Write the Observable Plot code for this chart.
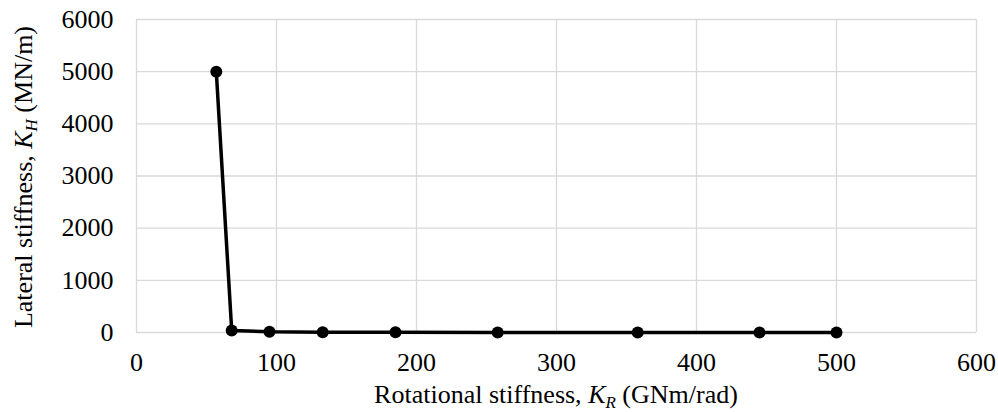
<!DOCTYPE html>
<html><head><meta charset="utf-8">
<script src="https://cdn.jsdelivr.net/npm/d3@7"></script>
<script src="https://cdn.jsdelivr.net/npm/@observablehq/plot@0.6"></script>
<style>
body{margin:0;background:#fff;}
svg, svg text{font-family:"Liberation Serif", "Times New Roman", serif !important;}
</style>
</head><body><div id="chart"></div>
<script>
const rotational = [57, 68, 95, 133, 185, 258, 358, 445, 500];
const lateral = [5000, 40, 15, 7, 4, 2, 1, 1, 1];
const xTicks = [0, 100, 200, 300, 400, 500, 600];
const yTicks = [0, 1000, 2000, 3000, 4000, 5000, 6000];

const data = rotational.map((x, i) => ({x, y: lateral[i]}));
const fmt = d => String(d);
const FONT = '"Liberation Serif", "Times New Roman", serif';

const chart = Plot.plot({
  width: 998, height: 412,
  marginLeft: 136, marginRight: 22, marginTop: 19, marginBottom: 80,
  style: {fontFamily: FONT, fontSize: "26px", color: "#000", background: "#fff"},
  x: {domain: [0, 600], ticks: xTicks, label: null, tickFormat: fmt},
  y: {domain: [0, 6000], ticks: yTicks, label: null, tickFormat: fmt},
  marks: [
    Plot.gridX(xTicks, {stroke: "#d9d9d9", strokeOpacity: 1, strokeWidth: 1.3}),
    Plot.gridY(yTicks, {stroke: "#d9d9d9", strokeOpacity: 1, strokeWidth: 1.3}),
    Plot.axisX(xTicks, {tickSize: 0, tickPadding: 20, fontSize: 26, fontFamily: FONT, tickFormat: fmt}),
    Plot.axisY(yTicks, {tickSize: 0, tickPadding: 23, fontSize: 26, fontFamily: FONT, tickFormat: fmt}),
    Plot.line(data, {x: "x", y: "y", stroke: "#000", strokeWidth: 3.5}),
    Plot.dot(data, {x: "x", y: "y", r: 6, fill: "#000", stroke: "none"})
  ]
});
document.getElementById("chart").appendChild(chart);

const svg = d3.select(chart);
const xl = svg.append("text")
  .attr("x", (136 + 976) / 2).attr("y", 403).attr("font-family", FONT)
  .attr("text-anchor", "middle").attr("font-size", 26).attr("fill", "#000");
xl.append("tspan").text("Rotational stiffness, ");
xl.append("tspan").attr("font-style", "italic").text("K");
xl.append("tspan").attr("font-style", "italic").attr("font-size", 17).attr("dy", 5).text("R");
xl.append("tspan").attr("dy", -5).text(" (GNm/rad)");

const yl = svg.append("text")
  .attr("transform", `translate(32,177) rotate(-90)`).attr("font-family", FONT)
  .attr("text-anchor", "middle").attr("font-size", 26).attr("fill", "#000");
yl.append("tspan").text("Lateral stiffness, ");
yl.append("tspan").attr("font-style", "italic").text("K");
yl.append("tspan").attr("font-style", "italic").attr("font-size", 17).attr("dy", 5).text("H");
yl.append("tspan").attr("dy", -5).text(" (MN/m)");
</script>
</body></html>
